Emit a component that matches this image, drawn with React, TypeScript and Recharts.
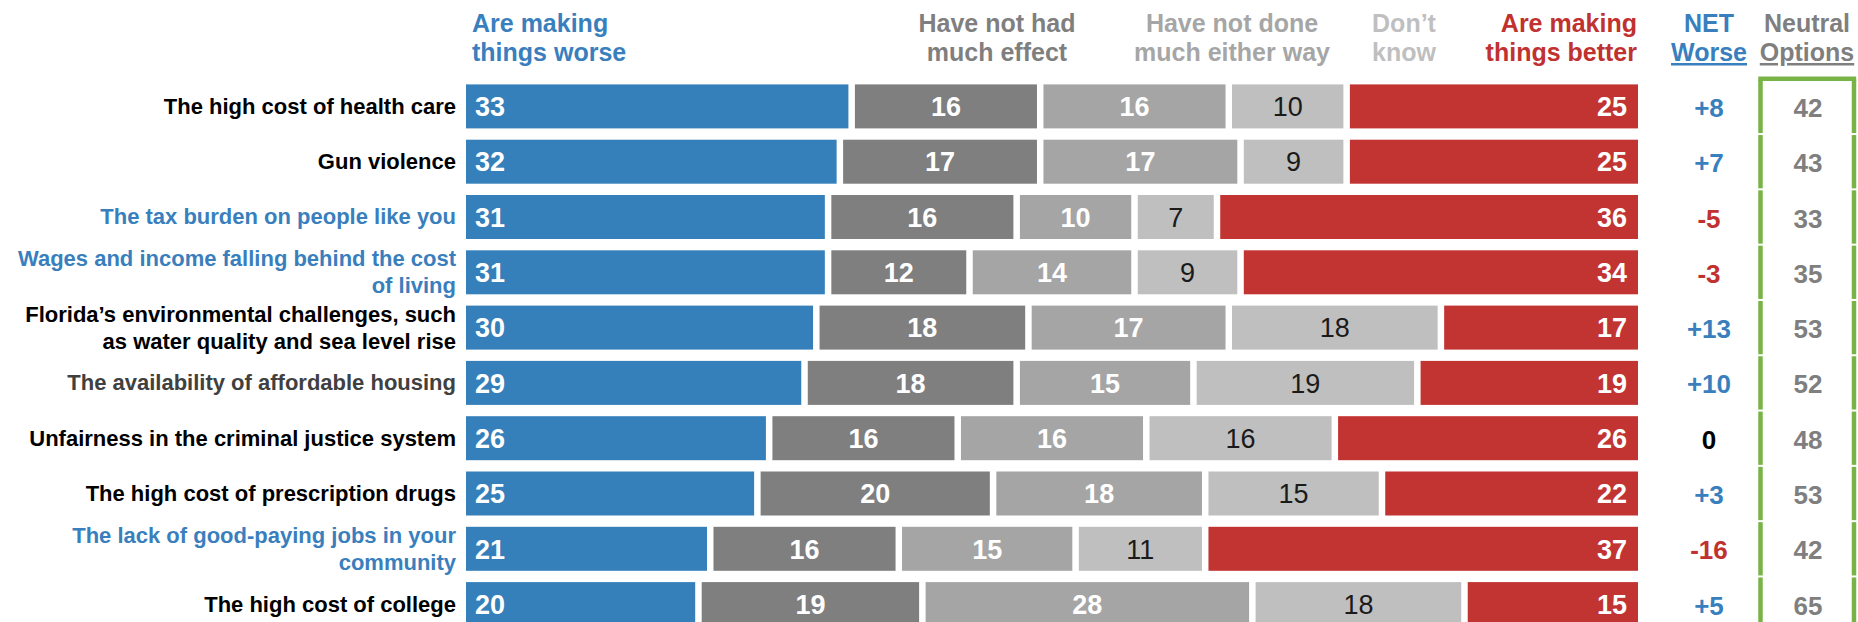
import React from "react";
import { BarChart, Bar, XAxis, YAxis } from "recharts";

const categories = [
  "The high cost of health care",
  "Gun violence",
  "The tax burden on people like you",
  "Wages and income falling behind the cost\nof living",
  "Florida’s environmental challenges, such\nas water quality and sea level rise",
  "The availability of affordable housing",
  "Unfairness in the criminal justice system",
  "The high cost of prescription drugs",
  "The lack of good-paying jobs in your\ncommunity",
  "The high cost of college",
];
const labelTone = ["k", "k", "b", "b", "k", "g", "k", "k", "b", "k"];
const worse = [33, 32, 31, 31, 30, 29, 26, 25, 21, 20];
const noEffect = [16, 17, 16, 12, 18, 18, 16, 20, 16, 19];
const notDone = [16, 17, 10, 14, 17, 15, 16, 18, 15, 28];
const dontKnow = [10, 9, 7, 9, 18, 19, 16, 15, 11, 18];
const better = [25, 25, 36, 34, 17, 19, 26, 22, 37, 15];
const netWorse = [8, 7, -5, -3, 13, 10, 0, 3, -16, 5];
const neutralOptions = [42, 43, 33, 35, 53, 52, 48, 53, 42, 65];

const headerWorse = ["Are making", "things worse"];
const headerNoEffect = ["Have not had", "much effect"];
const headerNotDone = ["Have not done", "much either way"];
const headerDontKnow = ["Don’t", "know"];
const headerBetter = ["Are making", "things better"];
const headerNet = ["NET", "Worse"];
const headerNeutral = ["Neutral", "Options"];

const rows = categories.map((name, i) => ({
  name,
  worse: worse[i],
  noEffect: noEffect[i],
  notDone: notDone[i],
  dontKnow: dontKnow[i],
  better: better[i],
}));

const BLUE = "#3580BB";
const RED = "#C23432";
const DGRAY = "#7F7F7F";
const MGRAY = "#A5A5A5";
const LGRAY = "#BFBFBF";
const GREEN = "#78B347";
const FONT = "'Liberation Sans', Arial, Helvetica, sans-serif";

const W = 1858;
const H = 640;
const TOP = 78.4;
const PLOT_H = 553;
const LEFT_W = 466;
const RIGHT = 213.5;
const BAR = 44;
const GAP = 6.5;
const BAND = PLOT_H / categories.length;
const PAD = (BAND - BAR) / 2;

const toneColor: Record<string, string> = { k: "#000", b: "#3A7FBD", g: "#404040" };

function LabelTick(props: any) {
  const { x, y, payload } = props;
  const idx = payload.index ?? categories.indexOf(payload.value);
  const lines = String(payload.value).split("\n");
  const lh = 27;
  const start = y - ((lines.length - 1) * lh) / 2 + 7.8;
  return (
    <text textAnchor="end" fontFamily={FONT} fontWeight="bold" fontSize={22} fill={toneColor[labelTone[idx]]}>
      {lines.map((l, i) => (
        <tspan key={i} x={x} y={start + i * lh}>
          {l}
        </tspan>
      ))}
    </text>
  );
}

function makeShape(fill: string, values: number[], align: string, textFill: string, weight: string, extra?: boolean) {
  return (props: any) => {
    const { x, y, width, height, index } = props;
    const w = Math.max(0, width - GAP);
    const v = values[index];
    let tx = x + w / 2;
    let anchor: any = "middle";
    if (align === "start") {
      tx = x + 9;
      anchor = "start";
    } else if (align === "end") {
      tx = x + w - 11;
      anchor = "end";
    }
    const cy = y + height / 2;
    const net = netWorse[index];
    const netColor = net > 0 ? "#3A7FBD" : net < 0 ? "#C0312F" : "#000";
    const end = x + w;
    const bandTop = y - PAD;
    const bandBot = y + height + PAD;
    return (
      <g>
        <rect x={x} y={y} width={w} height={height} fill={fill} />
        <text x={tx} y={cy + 9.7} textAnchor={anchor} fontFamily={FONT} fontWeight={weight} fontSize={27} fill={textFill}>
          {v}
        </text>
        {extra && (
          <g>
            <text x={end + 71} y={cy + 10.5} textAnchor="middle" fontFamily={FONT} fontWeight="bold" fontSize={26} fill={netColor}>
              {net > 0 ? `+${net}` : `${net}`}
            </text>
            <text x={end + 170} y={cy + 10.5} textAnchor="middle" fontFamily={FONT} fontWeight="bold" fontSize={26} fill="#7F7F7F">
              {neutralOptions[index]}
            </text>
            <line x1={end + 122.5} x2={end + 122.5} y1={bandTop + 1} y2={bandBot - 1} stroke={GREEN} strokeWidth={4.5} />
            <line x1={end + 216} x2={end + 216} y1={bandTop + 1} y2={bandBot - 1} stroke={GREEN} strokeWidth={4.5} />
            {index === 0 && (
              <line x1={end + 120.3} x2={end + 218.2} y1={bandTop} y2={bandTop} stroke={GREEN} strokeWidth={4.5} />
            )}
          </g>
        )}
      </g>
    );
  };
}

function Header({ lines, x, anchor, color, underline }: any) {
  return (
    <text textAnchor={anchor} fontFamily={FONT} fontWeight="bold" fontSize={25} fill={color}>
      <tspan x={x} y={32}>{lines[0]}</tspan>
      <tspan x={x} y={61} style={underline ? { textDecoration: "underline" } : undefined}>
        {lines[1]}
      </tspan>
    </text>
  );
}

export default function App() {
  return (
    <div style={{ position: "absolute", left: 0, top: 0, width: W, height: 622, overflow: "hidden", background: "#fff" }}>
      <BarChart
        layout="vertical"
        width={W}
        height={H}
        data={rows}
        margin={{ top: TOP, right: RIGHT, bottom: H - TOP - PLOT_H, left: 0 }}
        barSize={BAR}
      >
        <XAxis type="number" domain={[0, 100]} hide />
        <YAxis
          type="category"
          dataKey="name"
          width={LEFT_W}
          axisLine={false}
          tickLine={false}
          interval={0}
          tickMargin={4}
          tick={<LabelTick />}
        />
        <Bar dataKey="worse" stackId="s" fill={BLUE} isAnimationActive={false} shape={makeShape(BLUE, worse, "start", "#fff", "bold")} />
        <Bar dataKey="noEffect" stackId="s" fill={DGRAY} isAnimationActive={false} shape={makeShape(DGRAY, noEffect, "middle", "#fff", "bold")} />
        <Bar dataKey="notDone" stackId="s" fill={MGRAY} isAnimationActive={false} shape={makeShape(MGRAY, notDone, "middle", "#fff", "bold")} />
        <Bar dataKey="dontKnow" stackId="s" fill={LGRAY} isAnimationActive={false} shape={makeShape(LGRAY, dontKnow, "middle", "#1a1a1a", "normal")} />
        <Bar dataKey="better" stackId="s" fill={RED} isAnimationActive={false} shape={makeShape(RED, better, "end", "#fff", "bold", true)} />
      </BarChart>
      <svg width={W} height={80} style={{ position: "absolute", left: 0, top: 0, pointerEvents: "none" }}>
        <Header lines={headerWorse} x={472} anchor="start" color="#3A7FBD" />
        <Header lines={headerNoEffect} x={997} anchor="middle" color="#7F7F7F" />
        <Header lines={headerNotDone} x={1232} anchor="middle" color="#A6A6A6" />
        <Header lines={headerDontKnow} x={1404} anchor="middle" color="#BFBFBF" />
        <Header lines={headerBetter} x={1637} anchor="end" color="#C0312F" />
        <Header lines={headerNet} x={1709} anchor="middle" color="#3A7FBD" underline />
        <Header lines={headerNeutral} x={1807} anchor="middle" color="#7F7F7F" underline />
      </svg>
    </div>
  );
}
